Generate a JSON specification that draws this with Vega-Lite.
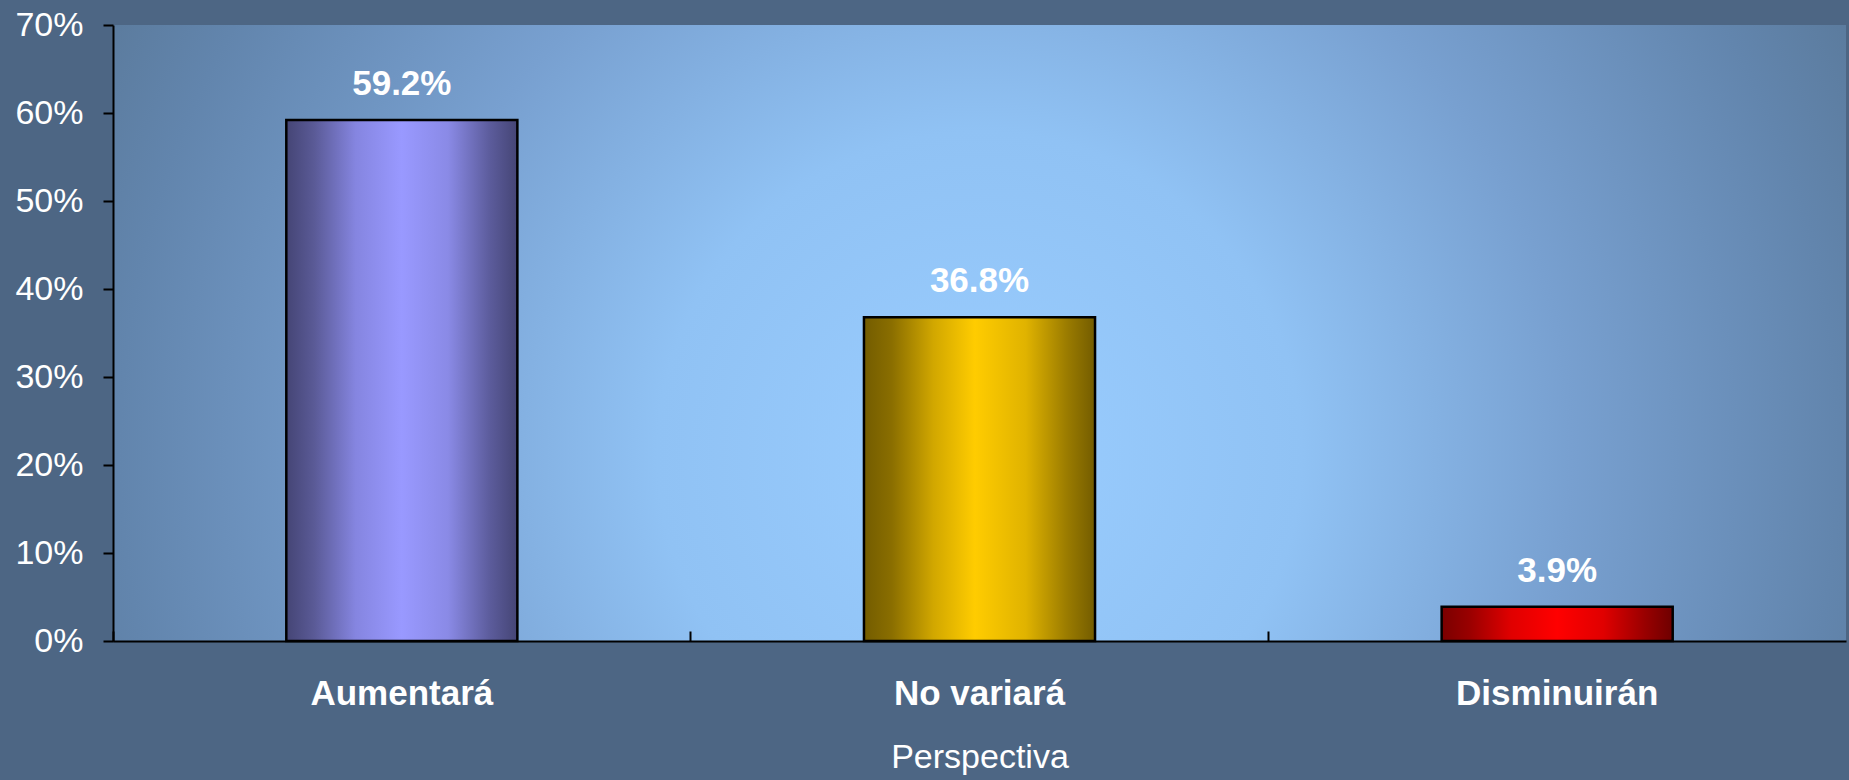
{
  "$schema": "https://vega.github.io/schema/vega-lite/v6.json",
  "width": 1733,
  "height": 616,
  "autosize": {"type": "none"},
  "padding": {"left": 113, "top": 25, "right": 3, "bottom": 139},
  "background": "#4d6684",
  "view": {
    "stroke": null,
    "fill": {
      "gradient": "radial",
      "x1": 0.5, "y1": 0.57, "r1": 0,
      "x2": 0.5, "y2": 0.57, "r2": 0.62,
      "stops": [
        {"offset": 0, "color": "#9acdff"},
        {"offset": 0.3, "color": "#90c2f4"},
        {"offset": 0.55, "color": "#78a0d0"},
        {"offset": 0.8, "color": "#6285ad"},
        {"offset": 1, "color": "#55728f"}
      ]
    }
  },
  "config": {"font": "Liberation Sans"},
  "data": {
    "values": [
      {"perspectiva": "Aumentará", "pct": 0.592},
      {"perspectiva": "No variará", "pct": 0.368},
      {"perspectiva": "Disminuirán", "pct": 0.039}
    ]
  },
  "encoding": {
    "y": {
      "field": "pct",
      "type": "quantitative",
      "scale": {"domain": [0, 0.7]},
      "axis": {
        "values": [0, 0.1, 0.2, 0.3, 0.4, 0.5, 0.6, 0.7],
        "format": ".0%",
        "title": null,
        "grid": false,
        "domainColor": "black",
        "domainWidth": 2,
        "tickColor": "black",
        "tickWidth": 2,
        "tickSize": 10,
        "labelFontSize": 34,
        "labelColor": "white",
        "labelPadding": 20,
        "labelFont": "Liberation Sans"
      }
    }
  },
  "layer": [
    {
      "transform": [{"filter": "datum.perspectiva === 'Aumentará'"}],
      "mark": {
        "type": "bar",
        "stroke": "black",
        "strokeWidth": 2.5,
        "fill": {
          "gradient": "linear", "x1": 0, "y1": 0, "x2": 1, "y2": 0,
          "stops": [
            {"offset": 0, "color": "#454575"},
            {"offset": 0.12, "color": "#5a5a96"},
            {"offset": 0.3, "color": "#8585e0"},
            {"offset": 0.5, "color": "#9999ff"},
            {"offset": 0.7, "color": "#8a8ae6"},
            {"offset": 0.88, "color": "#5c5c9c"},
            {"offset": 1, "color": "#454575"}
          ]
        }
      },
      "encoding": {
        "x": {
          "field": "perspectiva",
          "type": "nominal",
          "scale": {"domain": ["Aumentará", "No variará", "Disminuirán"], "paddingInner": 0.6, "paddingOuter": 0.3},
          "axis": {
            "orient": "bottom",
            "title": "Perspectiva",
            "ticks": false,
            "domain": true,
            "domainColor": "black",
            "domainWidth": 2,
            "labelFontSize": 35,
            "labelFontWeight": "bold",
            "labelColor": "white",
            "labelFont": "Liberation Sans",
            "labelAngle": 0,
            "labelLimit": 0,
            "labelBaseline": "middle",
            "labelPadding": 52,
            "titleFont": "Liberation Sans",
            "titleFontSize": 34,
            "titleFontWeight": "normal",
            "titleColor": "white",
            "titleY": 116,
            "titleBaseline": "middle"
          }
        }
      }
    },
    {
      "transform": [{"filter": "datum.perspectiva === 'No variará'"}],
      "mark": {
        "type": "bar",
        "stroke": "black",
        "strokeWidth": 2.5,
        "fill": {
          "gradient": "linear", "x1": 0, "y1": 0, "x2": 1, "y2": 0,
          "stops": [
            {"offset": 0, "color": "#735c00"},
            {"offset": 0.12, "color": "#8a6e00"},
            {"offset": 0.3, "color": "#d1a700"},
            {"offset": 0.48, "color": "#ffcc00"},
            {"offset": 0.7, "color": "#e0b300"},
            {"offset": 0.88, "color": "#9a7b00"},
            {"offset": 1, "color": "#735c00"}
          ]
        }
      },
      "encoding": {
        "x": {"field": "perspectiva", "type": "nominal", "axis": null}
      }
    },
    {
      "transform": [{"filter": "datum.perspectiva === 'Disminuirán'"}],
      "mark": {
        "type": "bar",
        "stroke": "black",
        "strokeWidth": 2.5,
        "fill": {
          "gradient": "linear", "x1": 0, "y1": 0, "x2": 1, "y2": 0,
          "stops": [
            {"offset": 0, "color": "#7a0000"},
            {"offset": 0.12, "color": "#990000"},
            {"offset": 0.3, "color": "#e00000"},
            {"offset": 0.5, "color": "#ff0000"},
            {"offset": 0.7, "color": "#e00000"},
            {"offset": 0.88, "color": "#990000"},
            {"offset": 1, "color": "#6e0000"}
          ]
        }
      },
      "encoding": {
        "x": {"field": "perspectiva", "type": "nominal", "axis": null}
      }
    },
    {
      "mark": {
        "type": "text",
        "dy": -25,
        "baseline": "alphabetic",
        "fontSize": 35,
        "fontWeight": "bold",
        "fill": "white",
        "font": "Liberation Sans"
      },
      "encoding": {
        "x": {
          "field": "perspectiva",
          "type": "nominal",
          "axis": {
            "orient": "bottom",
            "title": null,
            "labels": false,
            "domain": false,
            "ticks": true,
            "tickSize": -10,
            "tickColor": "black",
            "tickWidth": 2,
            "bandPosition": -0.75
          }
        },
        "text": {"field": "pct", "type": "quantitative", "format": ".1%"}
      }
    }
  ],
  "resolve": {"axis": {"x": "independent"}}
}
